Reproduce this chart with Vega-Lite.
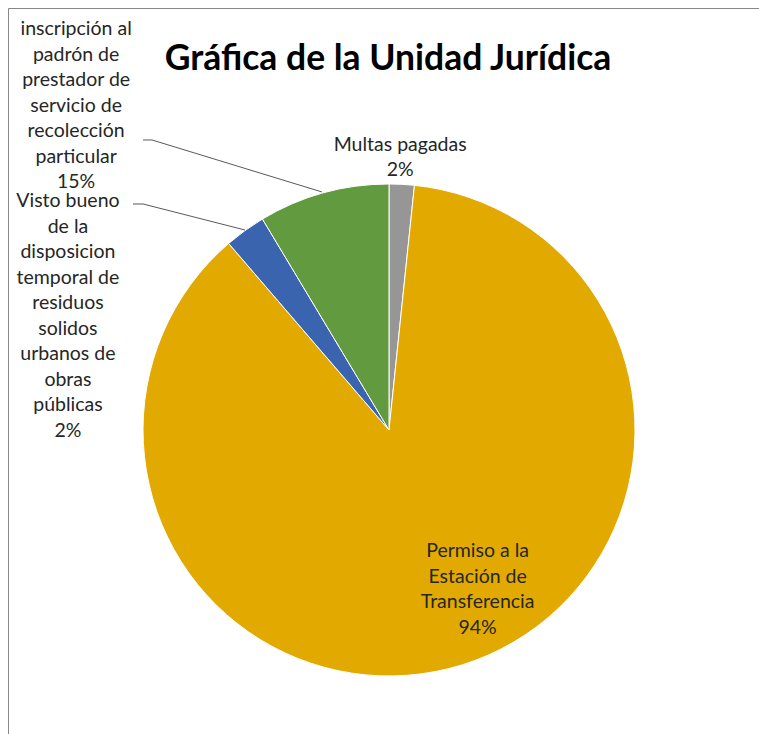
{
  "$schema": "https://vega.github.io/schema/vega-lite/v6.json",
  "width": 760,
  "height": 735,
  "autosize": {"type": "none"},
  "padding": {"left": 8, "top": 8, "right": 0, "bottom": 0},
  "background": "white",
  "config": {"view": {"stroke": "#888888", "strokeWidth": 1}},
  "title": {
    "text": "Gráfica de la Unidad Jurídica",
    "font": "Lato",
    "fontSize": 35.5,
    "fontWeight": "bold",
    "color": "#000000",
    "anchor": "middle",
    "frame": "group",
    "orient": "top",
    "offset": 0,
    "baseline": "alphabetic",
    "dy": 97
  },
  "datasets": {
    "slices": [
      {"categoria": "Multas pagadas", "valor": 1.65, "orden": 1, "etiqueta": "Multas pagadas\n2%"},
      {"categoria": "Permiso a la Estación de Transferencia", "valor": 87.05, "orden": 2, "etiqueta": "Permiso a la\nEstación de\nTransferencia\n94%"},
      {"categoria": "Visto bueno de la disposicion temporal de residuos solidos urbanos de obras públicas", "valor": 2.7, "orden": 3, "etiqueta": "Visto bueno\nde la\ndisposicion\ntemporal de\nresiduos\nsolidos\nurbanos de\nobras\npúblicas\n2%"},
      {"categoria": "inscripción al padrón de prestador de servicio de recolección particular", "valor": 8.6, "orden": 4, "etiqueta": "inscripción al\npadrón de\nprestador de\nservicio de\nrecolección\nparticular\n15%"}
    ],
    "leaders": [
      {"linea": "inscripcion", "p": 1, "x": -1.0, "y": 1.1789},
      {"linea": "inscripcion", "p": 2, "x": -0.9634, "y": 1.1789},
      {"linea": "inscripcion", "p": 3, "x": -0.2724, "y": 0.9675},
      {"linea": "visto", "p": 1, "x": -1.0407, "y": 0.9187},
      {"linea": "visto", "p": 2, "x": -1.0, "y": 0.9187},
      {"linea": "visto", "p": 3, "x": -0.5854, "y": 0.8130}
    ]
  },
  "layer": [
    {
      "data": {"name": "slices"},
      "mark": {"type": "arc", "outerRadius": 246, "stroke": "white", "strokeWidth": 1},
      "encoding": {
        "x": {"datum": 0, "type": "quantitative", "scale": {"domain": [-1.5488, 1.5407], "nice": false, "zero": false}, "axis": null},
        "y": {"datum": 0, "type": "quantitative", "scale": {"domain": [-1.2724, 1.7154], "nice": false, "zero": false}, "axis": null},
        "theta": {"field": "valor", "type": "quantitative", "stack": true},
        "order": {"field": "orden", "type": "quantitative"},
        "color": {
          "field": "categoria", "type": "nominal", "legend": null,
          "scale": {
            "domain": ["Multas pagadas", "Permiso a la Estación de Transferencia", "Visto bueno de la disposicion temporal de residuos solidos urbanos de obras públicas", "inscripción al padrón de prestador de servicio de recolección particular"],
            "range": ["#969696", "#E2AA00", "#3B64AF", "#629A3F"]
          }
        }
      }
    },
    {
      "data": {"name": "leaders"},
      "mark": {"type": "line", "color": "#595959", "strokeWidth": 1},
      "encoding": {
        "x": {"field": "x", "type": "quantitative"},
        "y": {"field": "y", "type": "quantitative"},
        "detail": {"field": "linea"},
        "order": {"field": "p", "type": "quantitative"}
      }
    },
    {
      "data": {"name": "slices"},
      "transform": [
        {"window": [{"op": "sum", "field": "valor", "as": "acum"}], "sort": [{"field": "orden"}]},
        {"calculate": "datum.acum - datum.valor / 2", "as": "medio"},
        {"filter": "datum.orden == 1"}
      ],
      "mark": {"type": "text", "radius": 273, "dx": -3, "dy": -12.75, "font": "Lato", "fontSize": 19.5, "lineHeight": 25.5, "lineBreak": "\n", "align": "center", "baseline": "middle", "color": "#262626"},
      "encoding": {
        "x": {"datum": 0, "type": "quantitative"},
        "y": {"datum": 0, "type": "quantitative"},
        "theta": {"field": "medio", "type": "quantitative", "stack": null},
        "text": {"field": "etiqueta"}
      }
    },
    {
      "data": {"name": "slices"},
      "transform": [
        {"window": [{"op": "sum", "field": "valor", "as": "acum"}], "sort": [{"field": "orden"}]},
        {"calculate": "datum.acum - datum.valor / 2", "as": "medio"},
        {"filter": "datum.orden == 2"}
      ],
      "mark": {"type": "text", "radius": 183, "dx": 34, "dy": -53.25, "font": "Lato", "fontSize": 19.5, "lineHeight": 25.5, "lineBreak": "\n", "align": "center", "baseline": "middle", "color": "#262626"},
      "encoding": {
        "x": {"datum": 0, "type": "quantitative"},
        "y": {"datum": 0, "type": "quantitative"},
        "theta": {"field": "medio", "type": "quantitative", "stack": null},
        "text": {"field": "etiqueta"}
      }
    },
    {
      "data": {"name": "slices"},
      "transform": [
        {"window": [{"op": "sum", "field": "valor", "as": "acum"}], "sort": [{"field": "orden"}]},
        {"calculate": "datum.acum - datum.valor / 2", "as": "medio"},
        {"filter": "datum.orden == 3"}
      ],
      "mark": {"type": "text", "radius": 300, "dx": -145.5, "dy": 14.55, "font": "Lato", "fontSize": 19.5, "lineHeight": 25.5, "lineBreak": "\n", "align": "center", "baseline": "middle", "color": "#262626"},
      "encoding": {
        "x": {"datum": 0, "type": "quantitative"},
        "y": {"datum": 0, "type": "quantitative"},
        "theta": {"field": "medio", "type": "quantitative", "stack": null},
        "text": {"field": "etiqueta"}
      }
    },
    {
      "data": {"name": "slices"},
      "transform": [
        {"window": [{"op": "sum", "field": "valor", "as": "acum"}], "sort": [{"field": "orden"}]},
        {"calculate": "datum.acum - datum.valor / 2", "as": "medio"},
        {"filter": "datum.orden == 4"}
      ],
      "mark": {"type": "text", "radius": 300, "dx": -232.8, "dy": -111.4, "font": "Lato", "fontSize": 19.5, "lineHeight": 25.5, "lineBreak": "\n", "align": "center", "baseline": "middle", "color": "#262626"},
      "encoding": {
        "x": {"datum": 0, "type": "quantitative"},
        "y": {"datum": 0, "type": "quantitative"},
        "theta": {"field": "medio", "type": "quantitative", "stack": null},
        "text": {"field": "etiqueta"}
      }
    }
  ]
}
